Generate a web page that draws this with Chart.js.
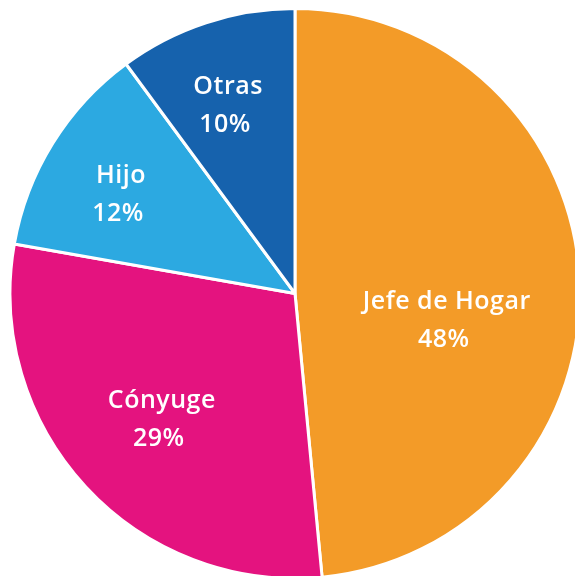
<!DOCTYPE html>
<html>
<head>
<meta charset="utf-8">
<script src="https://cdn.jsdelivr.net/npm/chart.js@4.4.0/dist/chart.umd.min.js"></script>
<style>
  html, body { margin: 0; padding: 0; background: #fff; overflow: hidden; width: 575px; height: 576px; }
  #wrap { position: absolute; left: 0; top: 7px; width: 590px; height: 573px; }
</style>
</head>
<body>
<div id="wrap"><canvas id="pieChart"></canvas></div>
<script>
// Data
const labels = ['Jefe de Hogar', 'Cónyuge', 'Hijo', 'Otras'];
const values = [48, 29, 12, 10];
const colors = ['#F39B28', '#E4137F', '#2CA9E1', '#1662AD'];

// label placement: fraction of radius along mid-angle, plus small nudges
const labelRadius = [0.54, 0.66, 0.71, 0.685];
const labelNudge = [[-2, 42], [5, 6], [-2, 15], [-6, 5]];

const sliceLabels = {
    id: 'sliceLabels',
    afterDatasetsDraw(chart) {
        const ctx = chart.ctx;
        const arcs = chart.getDatasetMeta(0).data;
        ctx.save();
        ctx.fillStyle = '#fff';
        ctx.textAlign = 'center';
        ctx.textBaseline = 'alphabetic';
        ctx.font = '600 25px "Open Sans"';
        ctx.letterSpacing = '0.5px';
        arcs.forEach((arc, i) => {
            const mid = (arc.startAngle + arc.endAngle) / 2;
            const r = arc.outerRadius * labelRadius[i];
            const x = arc.x + Math.cos(mid) * r + labelNudge[i][0];
            const y = arc.y + Math.sin(mid) * r + labelNudge[i][1];
            ctx.fillText(labels[i], x, y - 19);
            ctx.fillText(values[i] + '%', x - 3, y + 19);
        });
        ctx.restore();
    }
};

const ctxPie = document.getElementById('pieChart').getContext('2d');
const pieChart = new Chart(ctxPie, {
    type: 'pie',
    data: {
        labels: labels,
        datasets: [{
            data: values,
            backgroundColor: colors,
            borderColor: '#fff',
            borderWidth: 3
        }]
    },
    options: {
        responsive: true,
        maintainAspectRatio: false,
        animation: false,
        layout: { padding: 0 },
        plugins: {
            legend: { display: false },
            tooltip: { enabled: false }
        }
    },
    plugins: [sliceLabels]
});
</script>
</body>
</html>
